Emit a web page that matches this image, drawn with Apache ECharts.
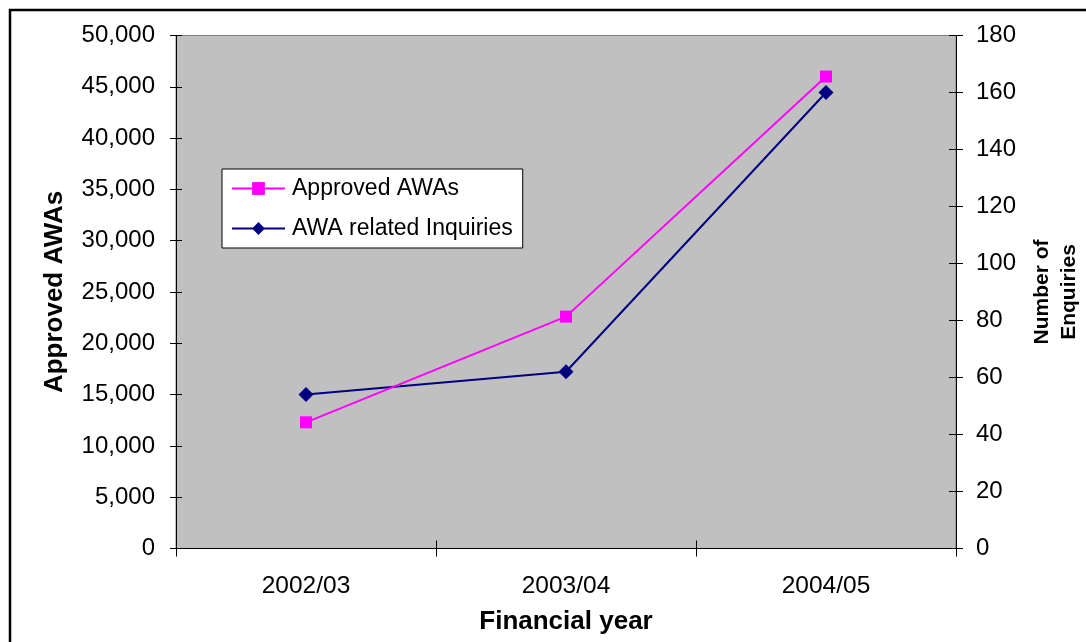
<!DOCTYPE html>
<html>
<head>
<meta charset="utf-8">
<script src="https://cdn.jsdelivr.net/npm/echarts@6/dist/echarts.min.js"></script>
<style>
html,body{margin:0;padding:0;background:#fff;}
#chart{width:1086px;height:642px;}
</style>
</head>
<body>
<div id="chart"></div>
<script>
const categories = ['2002/03', '2003/04', '2004/05'];
const approvedAWAs = [12300, 22600, 46000];
const awaInquiries = [54, 62, 160];
const seriesNames = ['Approved AWAs', 'AWA related Inquiries'];
const leftTitle = 'Approved AWAs';
const rightTitle = 'Number of\nEnquiries';
const xTitle = 'Financial year';

const FONT = 'Liberation Sans, Arial, sans-serif';
const chart = echarts.init(document.getElementById('chart'));
const grid = {left: 176, right: 130, top: 35.5, bottom: 93.5};

const option = {
  animation: false,
  backgroundColor: '#fff',
  textStyle: {fontFamily: FONT},
  graphic: [{
    type: 'rect', silent: true, z: 100,
    shape: {x: 10, y: 10, width: 1300, height: 900},
    style: {fill: 'none', stroke: '#000', lineWidth: 2.5}
  }],
  grid: [Object.assign({show: true, backgroundColor: '#C0C0C0', borderColor: '#808080', borderWidth: 1,
    containLabel: false, outerBoundsMode: 'none'}, grid)],
  legend: {
    data: seriesNames,
    orient: 'vertical',
    left: 222, top: 169,
    backgroundColor: '#fff',
    borderColor: '#000',
    borderWidth: 1,
    padding: [8, 10, 8, 9],
    itemWidth: 53, itemHeight: 16,
    itemGap: 17,
    textStyle: {fontSize: 23, color: '#000', fontFamily: FONT, padding: [0, 0, 0, 2]}
  },
  xAxis: [{
    type: 'category',
    data: categories,
    boundaryGap: true,
    name: xTitle,
    nameLocation: 'middle',
    nameGap: 60,
    nameTextStyle: {fontSize: 26, fontWeight: 'bold', color: '#000', fontFamily: FONT},
    axisLine: {lineStyle: {color: '#000', width: 1}},
    axisTick: {show: true, length: 8, lineStyle: {color: '#000'}},
    axisLabel: {fontSize: 24.5, color: '#000', margin: 25, fontFamily: FONT},
    splitLine: {show: false}
  }, {
    type: 'category',
    data: categories,
    position: 'bottom',
    boundaryGap: true,
    axisLine: {show: false},
    axisTick: {show: true, inside: true, length: 8, lineStyle: {color: '#000'}},
    axisLabel: {show: false},
    splitLine: {show: false}
  }],
  yAxis: [{
    type: 'value',
    position: 'left',
    min: 0, max: 50000, interval: 5000,
    name: leftTitle,
    nameLocation: 'middle',
    nameGap: 108,
    nameTextStyle: {fontSize: 26, fontWeight: 'bold', color: '#000', fontFamily: FONT},
    axisLine: {show: true, lineStyle: {color: '#000'}},
    axisTick: {show: true, length: 6, lineStyle: {color: '#000'}},
    axisLabel: {fontSize: 24, color: '#000', margin: 21, fontFamily: FONT,
      formatter: v => v.toLocaleString('en-US')},
    splitLine: {show: false}
  }, {
    type: 'value',
    position: 'right',
    min: 0, max: 180, interval: 20,
    name: rightTitle,
    nameLocation: 'middle',
    nameRotate: 90,
    nameGap: 73,
    nameTextStyle: {fontSize: 21, fontWeight: 'bold', color: '#000', fontFamily: FONT, lineHeight: 27, align: 'center'},
    axisLine: {show: true, lineStyle: {color: '#000'}},
    axisTick: {show: true, length: 7, lineStyle: {color: '#000'}},
    axisLabel: {fontSize: 24, color: '#000', margin: 20, fontFamily: FONT},
    splitLine: {show: false}
  }, {
    type: 'value',
    position: 'left',
    min: 0, max: 50000, interval: 5000,
    axisLine: {show: false},
    axisTick: {show: true, inside: true, length: 6, lineStyle: {color: '#000'}},
    axisLabel: {show: false},
    splitLine: {show: false}
  }, {
    type: 'value',
    position: 'right',
    min: 0, max: 180, interval: 20,
    axisLine: {show: false},
    axisTick: {show: true, inside: true, length: 7, lineStyle: {color: '#000'}},
    axisLabel: {show: false},
    splitLine: {show: false}
  }],
  series: [{
    name: seriesNames[0],
    type: 'line',
    yAxisIndex: 0,
    data: approvedAWAs,
    symbol: 'rect',
    symbolSize: 12,
    lineStyle: {color: '#FF00FF', width: 2},
    itemStyle: {color: '#FF00FF'},
    z: 3
  }, {
    name: seriesNames[1],
    type: 'line',
    yAxisIndex: 1,
    data: awaInquiries,
    symbol: 'diamond',
    symbolSize: 15,
    lineStyle: {color: '#000080', width: 2},
    itemStyle: {color: '#000080'},
    z: 2
  }]
};
chart.setOption(option);
</script>
</body>
</html>
